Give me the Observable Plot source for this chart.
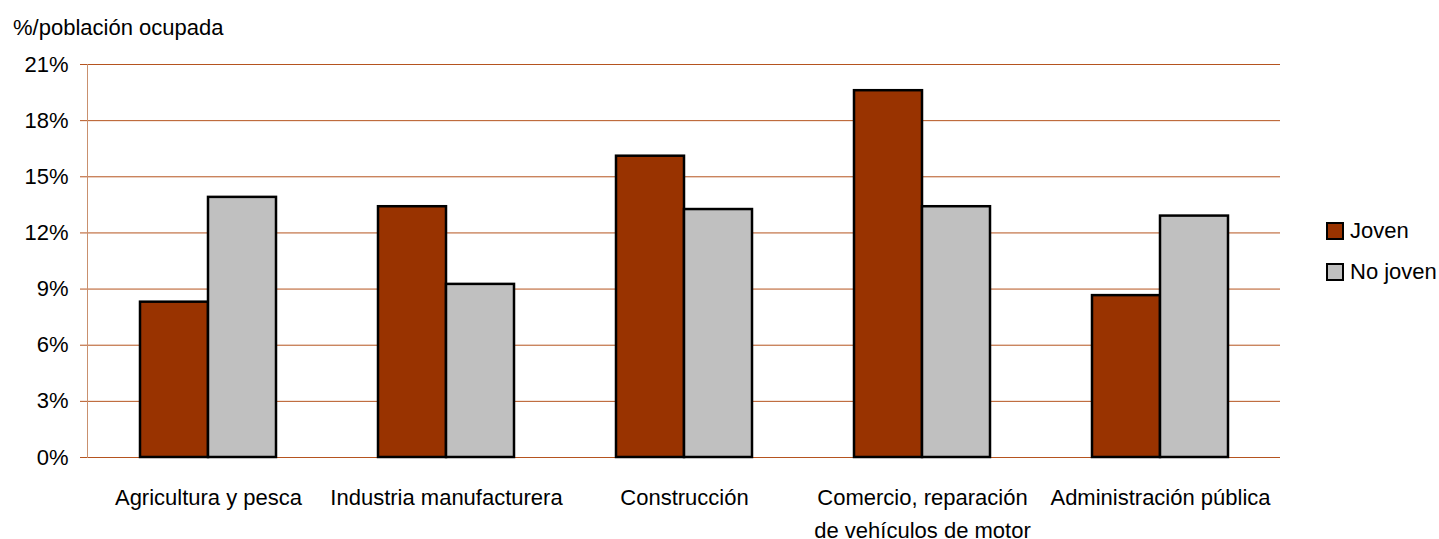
<!DOCTYPE html>
<html><head><meta charset="utf-8">
<script src="https://cdn.jsdelivr.net/npm/d3@7"></script>
<script src="https://cdn.jsdelivr.net/npm/@observablehq/plot@0.6"></script>
<style>
body{margin:0;background:#fff;font-family:"Liberation Sans",Arial,sans-serif;color:#000;}
#wrap{position:relative;width:1439px;height:539px;overflow:hidden;}
#title{height:40px;line-height:40px;padding-left:13px;font-size:22px;position:relative;top:8px;}
#legend{position:absolute;left:1326px;top:210px;font-size:22px;}
.item{display:flex;align-items:center;height:41px;}
.sw{width:14px;height:14px;border:2px solid #000;margin-right:6px;}
</style></head><body>
<div id="wrap"><div id="title">%/población ocupada</div><div id="chart"></div><div id="legend"></div></div>
<script>
const categories = ["Agricultura y pesca","Industria manufacturera","Construcción","Comercio, reparación\nde vehículos de motor","Administración pública"];
const series = ["Joven","No joven"];
const joven = [8.3, 13.4, 16.1, 19.6, 8.65];
const noJoven = [13.9, 9.25, 13.25, 13.4, 12.9];
const yTicks = [0,3,6,9,12,15,18,21];
const colors = ["#993300","#C0C0C0"];

const data = categories.flatMap((c,i)=>[
  {cat:c, series:series[0], value:joven[i]},
  {cat:c, series:series[1], value:noJoven[i]}
]);
const gridColor = "#b5541f";
const chart = Plot.plot({
  width:1439, height:499, marginTop:24, marginBottom:82, marginLeft:87, marginRight:159,
  style:{fontFamily:'"Liberation Sans",Arial,sans-serif', fontSize:"22px", color:"#000", background:"#fff"},
  x:{domain:categories, paddingInner:0.43, paddingOuter:0.215, label:null},
  y:{domain:[0,21], label:null},
  color:{domain:series, range:colors},
  marks:[
    Plot.ruleY(yTicks, {stroke:gridColor, strokeWidth:1}),
    Plot.frame({anchor:"left", stroke:"#c9906e"}),
    Plot.axisY({ticks:yTicks, tickSize:7, tickPadding:12, stroke:gridColor, fill:"#000", tickFormat:d=>d+"%", label:null}),
    Plot.axisX({tickSize:0, tickPadding:24, lineHeight:1.5, label:null, fill:"#000"}),
    Plot.barY(data.filter(d=>d.series===series[0]), {x:"cat", y:"value", fill:"series", stroke:"#000", strokeWidth:2.5, insetRight:68}),
    Plot.barY(data.filter(d=>d.series===series[1]), {x:"cat", y:"value", fill:"series", stroke:"#000", strokeWidth:2.5, insetLeft:68})
  ]
});
document.getElementById("chart").appendChild(chart);
const lg = document.getElementById("legend");
series.forEach((s,i)=>{
  const it = document.createElement("div"); it.className="item";
  const sw = document.createElement("div"); sw.className="sw"; sw.style.background=colors[i];
  const t = document.createElement("span"); t.textContent=s;
  it.appendChild(sw); it.appendChild(t); lg.appendChild(it);
});
</script>
</body></html>
